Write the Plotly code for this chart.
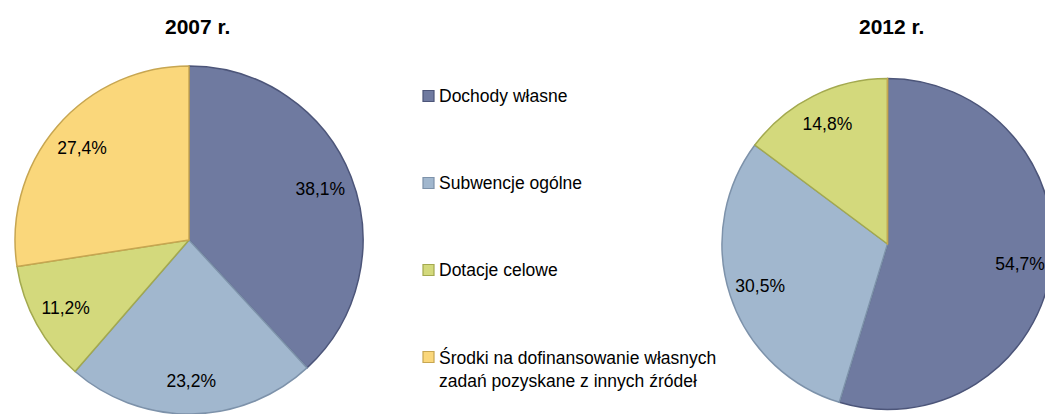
import plotly.graph_objects as go

# figure is offset by the page's 8px body margin; size it to fit the window
OFF = 8
W, H = 1053 - OFF, 414 - OFF

labels = ["Dochody własne", "Subwencje ogólne", "Dotacje celowe",
          "Środki na dofinansowanie własnych zadań pozyskane z innych źródeł"]
legend_text = ["Dochody własne", "Subwencje ogólne", "Dotacje celowe",
               "Środki na dofinansowanie własnych<br>zadań pozyskane z innych źródeł"]
values_2007 = [38.1, 23.2, 11.2, 27.4]
values_2012 = [54.7, 30.5, 14.8, 0.0]
titles = ["2007 r.", "2012 r."]

fill_colors = ["#6F7AA0", "#A1B7CE", "#D3D97C", "#FAD77B"]
line_colors = ["#4C5579", "#7D92AA", "#A3A94F", "#C7A651"]
transparent = ["rgba(0,0,0,0)"] * 4

FONT = "Liberation Sans, Arial, sans-serif"


def px_x(p):
    return (p - OFF) / W


def px_y(p):
    return 1 - (p - OFF) / H


fig = go.Figure()

domains = [
    dict(x=[px_x(15), px_x(363)], y=[px_y(414), px_y(66)]),
    dict(x=[px_x(722), 1.0], y=[px_y(409.5), px_y(78.5)]),
]

for vals, dom in zip([values_2007, values_2012], domains):
    # slices
    fig.add_trace(go.Pie(
        labels=labels, values=vals, sort=False, direction="clockwise",
        rotation=0, domain=dom,
        marker=dict(colors=fill_colors, line=dict(color=line_colors, width=1.5)),
        textinfo="none", hoverinfo="label+value", showlegend=False,
    ))
    # labels (placed in an outer ring of a transparent copy)
    fig.add_trace(go.Pie(
        labels=labels, values=vals, sort=False, direction="clockwise",
        rotation=0, domain=dom, hole=0.62,
        marker=dict(colors=transparent, line=dict(width=0)),
        texttemplate="%{value:.1f}%", textposition="inside",
        insidetextorientation="horizontal",
        textfont=dict(family=FONT, size=17.5, color="#000000"),
        hoverinfo="skip", showlegend=False,
    ))

# titles
for t, xc in zip(titles, [197, 891]):
    fig.add_annotation(text="<b>%s</b>" % t, x=px_x(xc), y=px_y(26.5),
                       xref="paper", yref="paper", showarrow=False,
                       font=dict(family=FONT, size=21, color="#000000"),
                       xanchor="center", yanchor="middle")

# legend (drawn manually to reproduce the wide vertical spacing)
legend_y = [96, 183, 270, 357]
legend_text_y = [96, 183, 270, 368.5]
for lab, fc, lc, yc, ty in zip(legend_text, fill_colors, line_colors, legend_y, legend_text_y):
    fig.add_shape(type="rect", xref="paper", yref="paper",
                  x0=px_x(423), x1=px_x(434), y0=px_y(yc + 5.5), y1=px_y(yc - 5.5),
                  fillcolor=fc, line=dict(color=lc, width=1.2))
    fig.add_annotation(text=lab, x=px_x(437), y=px_y(ty),
                       xref="paper", yref="paper", showarrow=False,
                       xanchor="left", yanchor="middle", align="left",
                       font=dict(family=FONT, size=17.5, color="#000000"))

fig.update_layout(
    width=W, height=H,
    margin=dict(l=0, r=0, t=0, b=0),
    paper_bgcolor="white", plot_bgcolor="white",
    separators=", ",
    showlegend=False,
)

fig.write_html("out.html")
